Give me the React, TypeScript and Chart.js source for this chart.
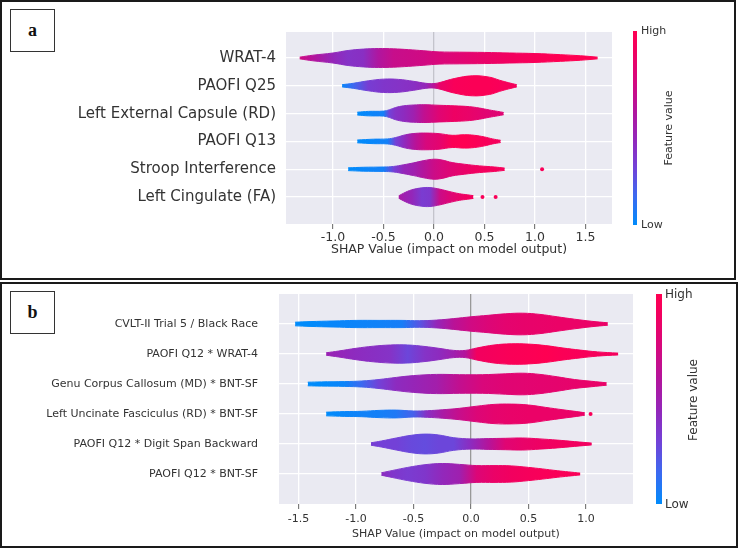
import React, { useEffect, useRef } from "react";
import Chart from "chart.js/auto";

// ---------------- Panel a data ----------------
const aFeatures = [
  "WRAT-4",
  "PAOFI Q25",
  "Left External Capsule (RD)",
  "PAOFI Q13",
  "Stroop Interference",
  "Left Cingulate (FA)",
];
const aTicks = [-1.0, -0.5, 0.0, 0.5, 1.0, 1.5];
const aShapX = [
  [-1.33, -1.2, -1.0, -0.85, -0.7, -0.55, -0.4, -0.25, -0.1, 0.05, 0.25, 0.5, 0.75, 1.0, 1.25, 1.45, 1.62],
  [-0.91, -0.8, -0.65, -0.5, -0.35, -0.2, -0.08, 0.0, 0.06, 0.2, 0.38, 0.55, 0.65, 0.74, 0.82],
  [-0.76, -0.65, -0.5, -0.44, -0.38, -0.3, -0.2, -0.1, 0.05, 0.2, 0.35, 0.45, 0.55, 0.63, 0.69],
  [-0.76, -0.6, -0.46, -0.38, -0.28, -0.18, -0.08, 0.05, 0.18, 0.3, 0.4, 0.5, 0.58, 0.66],
  [-0.85, -0.7, -0.5, -0.4, -0.3, -0.2, -0.1, 0.0, 0.08, 0.18, 0.3, 0.45, 0.6, 0.7],
  [-0.35, -0.3, -0.22, -0.12, -0.04, 0.06, 0.15, 0.25, 0.33, 0.39],
];
const aHalfWidth = [
  [0.03, 0.1, 0.18, 0.27, 0.32, 0.34, 0.33, 0.3, 0.26, 0.22, 0.21, 0.2, 0.18, 0.16, 0.12, 0.08, 0.03],
  [0.04, 0.09, 0.18, 0.24, 0.23, 0.16, 0.09, 0.08, 0.12, 0.26, 0.36, 0.31, 0.2, 0.11, 0.04],
  [0.05, 0.08, 0.09, 0.14, 0.22, 0.28, 0.31, 0.32, 0.3, 0.28, 0.25, 0.2, 0.13, 0.08, 0.04],
  [0.05, 0.08, 0.09, 0.14, 0.24, 0.29, 0.3, 0.28, 0.22, 0.24, 0.22, 0.16, 0.09, 0.04],
  [0.05, 0.07, 0.08, 0.1, 0.16, 0.23, 0.31, 0.36, 0.33, 0.24, 0.18, 0.12, 0.08, 0.04],
  [0.04, 0.14, 0.26, 0.33, 0.34, 0.28, 0.2, 0.12, 0.08, 0.05],
];
const aFeatureValue = [
  [0.72, 0.6, 0.45, 0.38, 0.4, 0.58, 0.68, 0.7, 0.72, 0.76, 0.8, 0.85, 0.9, 0.95, 1.0, 1.0, 1.0],
  [0.02, 0.15, 0.32, 0.36, 0.38, 0.4, 0.45, 0.62, 0.85, 0.95, 0.97, 0.97, 0.95, 0.93, 0.92],
  [0.0, 0.02, 0.05, 0.3, 0.38, 0.42, 0.5, 0.65, 0.8, 0.88, 0.85, 0.82, 0.8, 0.8, 0.8],
  [0.0, 0.02, 0.05, 0.3, 0.45, 0.62, 0.75, 0.82, 0.98, 1.0, 0.98, 0.95, 0.93, 0.92],
  [0.0, 0.02, 0.05, 0.3, 0.45, 0.5, 0.6, 0.7, 0.75, 0.8, 0.85, 0.9, 0.92, 0.93],
  [0.55, 0.5, 0.45, 0.33, 0.35, 0.7, 0.78, 0.85, 0.9, 0.92],
];
const aOutlierX = [1.07, 0.48, 0.61];
const aOutlierRow = [4, 5, 5];

// ---------------- Panel b data ----------------
const bFeatures = [
  "CVLT-II Trial 5 / Black Race",
  "PAOFI Q12 * WRAT-4",
  "Genu Corpus Callosum (MD) * BNT-SF",
  "Left Uncinate Fasciculus (RD) * BNT-SF",
  "PAOFI Q12 * Digit Span Backward",
  "PAOFI Q12 * BNT-SF",
];
const bTicks = [-1.5, -1.0, -0.5, 0.0, 0.5, 1.0];
const bShapX = [
  [-1.53, -1.4, -1.2, -1.0, -0.8, -0.6, -0.45, -0.3, -0.15, 0.0, 0.15, 0.3, 0.45, 0.6, 0.75, 0.9, 1.05, 1.19],
  [-1.26, -1.15, -1.0, -0.85, -0.7, -0.55, -0.4, -0.28, -0.15, -0.05, 0.05, 0.2, 0.35, 0.5, 0.65, 0.8, 0.95, 1.1, 1.28],
  [-1.42, -1.3, -1.1, -0.95, -0.8, -0.65, -0.5, -0.3, -0.1, 0.1, 0.3, 0.45, 0.6, 0.75, 0.9, 1.05, 1.18],
  [-1.26, -1.1, -0.95, -0.8, -0.65, -0.5, -0.38, -0.25, -0.1, 0.05, 0.2, 0.35, 0.5, 0.65, 0.8, 0.92, 0.99],
  [-0.87, -0.78, -0.65, -0.52, -0.4, -0.28, -0.15, 0.0, 0.15, 0.3, 0.45, 0.6, 0.75, 0.9, 1.05],
  [-0.78, -0.68, -0.55, -0.4, -0.25, -0.1, 0.05, 0.2, 0.35, 0.5, 0.62, 0.75, 0.85, 0.95],
];
const bHalfWidth = [
  [0.06, 0.08, 0.1, 0.12, 0.12, 0.12, 0.11, 0.13, 0.18, 0.24, 0.29, 0.34, 0.36, 0.32, 0.24, 0.16, 0.09, 0.04],
  [0.04, 0.1, 0.19, 0.26, 0.3, 0.3, 0.25, 0.19, 0.12, 0.12, 0.2, 0.3, 0.34, 0.33, 0.28, 0.2, 0.13, 0.07, 0.03],
  [0.06, 0.07, 0.08, 0.1, 0.15, 0.22, 0.28, 0.32, 0.31, 0.31, 0.34, 0.36, 0.32, 0.24, 0.15, 0.09, 0.04],
  [0.06, 0.08, 0.09, 0.12, 0.13, 0.1, 0.11, 0.14, 0.19, 0.26, 0.32, 0.33, 0.3, 0.22, 0.14, 0.08, 0.04],
  [0.04, 0.1, 0.2, 0.29, 0.33, 0.3, 0.21, 0.17, 0.18, 0.19, 0.2, 0.17, 0.13, 0.08, 0.03],
  [0.04, 0.12, 0.22, 0.31, 0.35, 0.32, 0.28, 0.28, 0.27, 0.22, 0.17, 0.11, 0.07, 0.03],
];
const bFeatureValue = [
  [0.0, 0.0, 0.02, 0.03, 0.04, 0.06, 0.22, 0.45, 0.62, 0.72, 0.78, 0.82, 0.84, 0.85, 0.86, 0.86, 0.86, 0.86],
  [0.48, 0.45, 0.42, 0.4, 0.38, 0.28, 0.38, 0.42, 0.5, 0.6, 0.9, 0.93, 0.96, 0.98, 1.0, 0.97, 0.95, 0.93, 0.92],
  [0.0, 0.0, 0.03, 0.15, 0.3, 0.42, 0.46, 0.52, 0.66, 0.76, 0.8, 0.81, 0.82, 0.83, 0.84, 0.85, 0.85],
  [0.0, 0.02, 0.04, 0.05, 0.08, 0.18, 0.4, 0.55, 0.68, 0.78, 0.83, 0.85, 0.86, 0.86, 0.86, 0.86, 0.86],
  [0.32, 0.3, 0.3, 0.27, 0.26, 0.28, 0.28, 0.42, 0.6, 0.8, 0.85, 0.88, 0.9, 0.9, 0.9],
  [0.42, 0.36, 0.33, 0.36, 0.44, 0.5, 0.78, 0.86, 0.9, 0.93, 0.95, 0.96, 0.96, 0.96],
];
const bOutlierX = [1.04];
const bOutlierRow = [3];

// ---------------- colour map (SHAP red_blue) ----------------
const CMAP_STOPS: [number, number[]][] = [
  [0.0, [0, 139, 251]],
  [0.15, [60, 105, 240]],
  [0.3, [115, 65, 215]],
  [0.45, [148, 38, 185]],
  [0.6, [180, 20, 155]],
  [0.75, [215, 8, 125]],
  [0.9, [242, 0, 95]],
  [1.0, [255, 0, 82]],
];
function cmap(t: number): string {
  const v = Math.max(0, Math.min(1, t));
  for (let i = 1; i < CMAP_STOPS.length; i++) {
    const [p1, c1] = CMAP_STOPS[i];
    const [p0, c0] = CMAP_STOPS[i - 1];
    if (v <= p1) {
      const f = (v - p0) / (p1 - p0);
      const c = c0.map((a, k) => Math.round(a + (c1[k] - a) * f));
      return `rgb(${c[0]},${c[1]},${c[2]})`;
    }
  }
  const c = CMAP_STOPS[CMAP_STOPS.length - 1][1];
  return `rgb(${c[0]},${c[1]},${c[2]})`;
}

function gradientFor(xs: number[], cs: number[]) {
  return (ctx: any) => {
    const chart = ctx.chart;
    const xScale = chart.scales && chart.scales.x;
    if (!chart.chartArea || !xScale) return cmap(cs[0]);
    const p0 = xScale.getPixelForValue(xs[0]);
    const p1 = xScale.getPixelForValue(xs[xs.length - 1]);
    if (!isFinite(p0) || !isFinite(p1) || p1 === p0) return cmap(cs[0]);
    const g = chart.ctx.createLinearGradient(p0, 0, p1, 0);
    xs.forEach((x: number, k: number) => {
      const f = (xScale.getPixelForValue(x) - p0) / (p1 - p0);
      g.addColorStop(Math.max(0, Math.min(1, f)), cmap(cs[k]));
    });
    return g;
  };
}

const bgPlugin = {
  id: "plotBg",
  beforeDraw(chart: any) {
    const { ctx, chartArea } = chart;
    if (!chartArea) return;
    ctx.save();
    ctx.fillStyle = "#eaeaf2";
    ctx.fillRect(chartArea.left, chartArea.top, chartArea.right - chartArea.left, chartArea.bottom - chartArea.top);
    ctx.restore();
  },
};

type Opts = {
  xMin: number; xMax: number; yMin: number; yMax: number;
  padding: { left: number; top: number; right: number; bottom: number };
  yWidth: number; xHeight: number;
  labelSize: number; tickSize: number; yPad: number; xPad: number;
  zeroColor: string;
};

function buildConfig(
  features: string[], ticks: number[], xsA: number[][], wsA: number[][], csA: number[][],
  outX: number[], outRow: number[], o: Opts
): any {
  const datasets: any[] = [];
  features.forEach((_, i) => {
    const xs = xsA[i];
    const ws = wsA[i];
    const cs = csA[i];
    const grad = gradientFor(xs, cs);
    datasets.push({
      data: xs.map((x, k) => ({ x, y: i - ws[k] })),
      borderColor: grad, backgroundColor: grad, borderWidth: 1,
      pointRadius: 0, fill: false, tension: 0.4,
    });
    datasets.push({
      data: xs.map((x, k) => ({ x, y: i + ws[k] })),
      borderColor: grad, backgroundColor: grad, borderWidth: 1,
      pointRadius: 0, fill: "-1", tension: 0.4,
    });
  });
  datasets.push({
    data: outX.map((x, k) => ({ x, y: outRow[k] })),
    showLine: false, pointRadius: 2, pointBorderWidth: 0,
    pointBackgroundColor: cmap(0.95), borderColor: cmap(0.95), fill: false,
  });
  const font = "'DejaVu Sans', Verdana, sans-serif";
  return {
    type: "line",
    data: { datasets },
    plugins: [bgPlugin],
    options: {
      animation: false,
      responsive: false,
      layout: { padding: o.padding },
      plugins: { legend: { display: false }, tooltip: { enabled: false } },
      scales: {
        x: {
          type: "linear", min: o.xMin, max: o.xMax,
          afterBuildTicks: (s: any) => { s.ticks = ticks.map((v) => ({ value: v })); },
          afterFit: (s: any) => { s.height = o.xHeight; s.paddingLeft = 0; s.paddingRight = 0; },
          ticks: {
            autoSkip: false, maxRotation: 0, padding: o.xPad, color: "#333",
            font: { family: font, size: o.tickSize },
            callback: (v: any) => Number(v).toFixed(1),
          },
          grid: {
            color: (c: any) => (c.tick && c.tick.value === 0 ? o.zeroColor : "#ffffff"),
            lineWidth: 1.3, drawTicks: true, tickLength: 5, tickColor: "#666", tickWidth: 1,
          },
          border: { display: false },
          title: {
            display: true, text: "SHAP Value (impact on model output)", color: "#333",
            font: { family: font, size: o.tickSize }, padding: { top: 4, bottom: 4 },
          },
        },
        y: {
          type: "linear", min: o.yMin, max: o.yMax, reverse: true,
          afterBuildTicks: (s: any) => { s.ticks = features.map((_, i) => ({ value: i })); },
          afterFit: (s: any) => { s.width = o.yWidth; s.paddingTop = 0; s.paddingBottom = 0; },
          ticks: {
            autoSkip: false, padding: o.yPad, color: "#333",
            font: { family: font, size: o.labelSize },
            callback: (v: any) => features[Math.round(Number(v))] ?? "",
          },
          grid: { color: "#ffffff", lineWidth: 1.3, drawTicks: false },
          border: { display: false },
        },
      },
    },
  };
}

function colorbarCss(): string {
  const parts: string[] = [];
  for (let k = 0; k <= 20; k++) parts.push(`${cmap(k / 20)} ${(k / 20) * 100}%`);
  return `linear-gradient(to top, ${parts.join(", ")})`;
}

const FONT = "'DejaVu Sans', Verdana, sans-serif";

export default function App() {
  const refA = useRef<HTMLCanvasElement>(null);
  const refB = useRef<HTMLCanvasElement>(null);

  useEffect(() => {
    const ca = new Chart(
      refA.current as HTMLCanvasElement,
      buildConfig(aFeatures, aTicks, aShapX, aHalfWidth, aFeatureValue, aOutlierX, aOutlierRow, {
        xMin: -1.465, xMax: 1.762, yMin: -0.935, yMax: 5.97,
        padding: { left: 0, top: 32, right: 128, bottom: 18.5 },
        yWidth: 286, xHeight: 37.5, labelSize: 15, tickSize: 12.5, yPad: 10, xPad: 1.5,
        zeroColor: "#c4c4cc",
      })
    );
    const cb = new Chart(
      refB.current as HTMLCanvasElement,
      buildConfig(bFeatures, bTicks, bShapX, bHalfWidth, bFeatureValue, bOutlierX, bOutlierRow, {
        xMin: -1.67, xMax: 1.409, yMin: -1, yMax: 6,
        padding: { left: 0, top: 10, right: 107, bottom: 2.4 },
        yWidth: 279, xHeight: 40.6, labelSize: 11, tickSize: 11, yPad: 21, xPad: 3.5,
        zeroColor: "#999999",
      })
    );
    return () => {
      ca.destroy();
      cb.destroy();
    };
  }, []);

  const grad = colorbarCss();
  const abs = (s: React.CSSProperties): React.CSSProperties => ({ position: "absolute", ...s });
  const text: React.CSSProperties = { fontFamily: FONT, color: "#333", whiteSpace: "nowrap" };

  return (
    <div style={abs({ left: 0, top: 0, width: 740, height: 549, background: "#fff", overflow: "hidden" })}>
      {/* Panel frames */}
      <div style={abs({ left: 0, top: 0, width: 736, height: 280, border: "2px solid #1a1a1a", boxSizing: "border-box" })} />
      <div style={abs({ left: 0, top: 282, width: 738, height: 266, border: "2px solid #1a1a1a", boxSizing: "border-box" })} />

      {/* Panel labels */}
      <div style={abs({ left: 10, top: 9, width: 45, height: 43, border: "1px solid #333", boxSizing: "border-box",
        fontFamily: "'Liberation Serif', 'Times New Roman', serif", fontWeight: "bold", fontSize: 18,
        display: "flex", alignItems: "center", justifyContent: "center", color: "#111" })}>a</div>
      <div style={abs({ left: 10, top: 291, width: 45, height: 43, border: "1px solid #333", boxSizing: "border-box",
        fontFamily: "'Liberation Serif', 'Times New Roman', serif", fontWeight: "bold", fontSize: 18,
        display: "flex", alignItems: "center", justifyContent: "center", color: "#111" })}>b</div>

      {/* Charts */}
      <canvas ref={refA} width={740} height={280} style={abs({ left: 0, top: 0, width: 740, height: 280 })} />
      <canvas ref={refB} width={740} height={263} style={abs({ left: 0, top: 284, width: 740, height: 263 })} />

      {/* Colorbar a */}
      <div style={abs({ left: 633, top: 31, width: 4, height: 194, background: grad })} />
      <div style={abs({ ...text, left: 641, top: 24, fontSize: 11, lineHeight: "14px" })}>High</div>
      <div style={abs({ ...text, left: 641, top: 218, fontSize: 11, lineHeight: "14px" })}>Low</div>
      <div style={abs({ ...text, left: 669, top: 128, fontSize: 11, lineHeight: "14px",
        transform: "translate(-50%, -50%) rotate(-90deg)" })}>Feature value</div>

      {/* Colorbar b */}
      <div style={abs({ left: 656, top: 294, width: 6, height: 210, background: grad })} />
      <div style={abs({ ...text, left: 665, top: 287, fontSize: 12, lineHeight: "15px" })}>High</div>
      <div style={abs({ ...text, left: 665, top: 497, fontSize: 12, lineHeight: "15px" })}>Low</div>
      <div style={abs({ ...text, left: 693, top: 400, fontSize: 12, lineHeight: "15px",
        transform: "translate(-50%, -50%) rotate(-90deg)" })}>Feature value</div>
    </div>
  );
}
